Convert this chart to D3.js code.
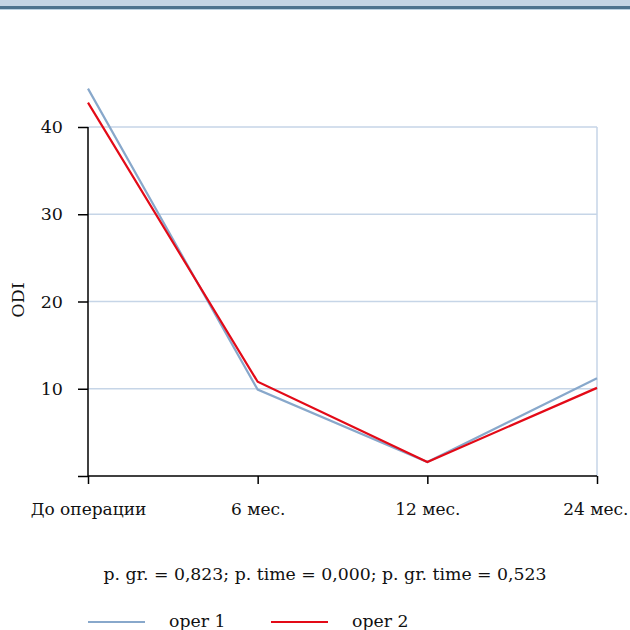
<!DOCTYPE html>
<html><head><meta charset="utf-8">
<script src="https://cdn.jsdelivr.net/npm/d3@7"></script>
<style>
html,body{margin:0;padding:0;background:#fff;}
svg{display:block;}
text{font-family:"DejaVu Serif","Liberation Serif",serif;fill:#111;}
</style></head>
<body>
<svg id="chart" width="630" height="630"></svg>
<script>
const categories = ["До операции", "6 мес.", "12 мес.", "24 мес."];
const oper1 = [44.4, 9.9, 1.6, 11.2];
const oper2 = [42.8, 10.8, 1.6, 10.1];
const seriesNames = ["oper 1", "oper 2"];
const yTicks = [0, 10, 20, 30, 40];
const statsText = "p. gr. = 0,823; p. time = 0,000; p. gr. time = 0,523";

const colors = ["#88a8cb", "#e30a17"];
const svg = d3.select("#chart");

// header band
svg.append("rect").attr("x",0).attr("y",0).attr("width",630).attr("height",6).attr("fill","#c5d3e4");
svg.append("rect").attr("x",0).attr("y",6).attr("width",630).attr("height",3).attr("fill","#4e718e");
svg.append("rect").attr("x",0).attr("y",9).attr("width",630).attr("height",1).attr("fill","#bcd0e2");

const x = d3.scalePoint().domain(categories).range([88, 597]);
const y = d3.scaleLinear().domain([0, 40]).range([476, 127]);

// gridlines
svg.append("g").selectAll("line").data(yTicks.filter(d => d > 0)).join("line")
  .attr("x1", 88).attr("x2", 597)
  .attr("y1", d => y(d)).attr("y2", d => y(d))
  .attr("stroke", "#c6d5e7").attr("stroke-width", 1.5);
svg.append("line").attr("x1", x(categories[3])).attr("x2", x(categories[3]))
  .attr("y1", y(40)).attr("y2", y(0)).attr("stroke", "#c6d5e7").attr("stroke-width", 1.5);

// y axis
const yAxis = d3.axisLeft(y).tickValues(yTicks).tickSize(10).tickPadding(15)
  .tickFormat(d => d === 0 ? "" : d);
const gy = svg.append("g").attr("transform", "translate(88,0)").call(yAxis);
gy.select(".domain").remove();
gy.append("line").attr("x1",0).attr("x2",0).attr("y1",y(40)).attr("y2",y(0))
  .attr("stroke","#000").attr("stroke-width",1.5);
gy.selectAll(".tick line").attr("stroke","#000").attr("stroke-width",1.5);
gy.selectAll(".tick text").style("font-size","17.5px")
  .style("font-family","'DejaVu Serif',serif").attr("fill","#111");

// x axis
const xAxis = d3.axisBottom(x).tickSize(8).tickPadding(19);
const gx = svg.append("g").attr("transform", `translate(0,${y(0)})`).call(xAxis);
gx.select(".domain").remove();
gx.append("line").attr("x1",x(categories[0])).attr("x2",x(categories[3])).attr("y1",0).attr("y2",0)
  .attr("stroke","#000").attr("stroke-width",1.5);
gx.selectAll(".tick line").attr("stroke","#000").attr("stroke-width",1.5);
gx.selectAll(".tick text").style("font-size","17px")
  .style("font-family","'DejaVu Serif',serif").attr("fill","#111");
// keep last label inside the frame
gx.selectAll(".tick").each(function(d) {
  const t = d3.select(this).select("text");
  const bb = t.node().getBBox();
  const right = x(d) + bb.width / 2;
  if (right > 628) t.attr("x", 628 - right);
});

// y label
svg.append("text").attr("transform","translate(24,300) rotate(-90)")
  .attr("text-anchor","middle").style("font-size","17.5px").text("ODI");

// lines
const line = d3.line().x((d,i) => x(categories[i])).y(d => y(d));
[oper1, oper2].forEach((s, k) => {
  svg.append("path").datum(s).attr("d", line).attr("fill","none")
    .attr("stroke", colors[k]).attr("stroke-width", 2.2).attr("stroke-linejoin","miter");
});

// stats text
svg.append("text").attr("x", 325).attr("y", 580).attr("text-anchor","middle")
  .style("font-size","17.3px").text(statsText);

// legend
const legX = [88, 271];
seriesNames.forEach((n, k) => {
  svg.append("line").attr("x1", legX[k]).attr("x2", legX[k] + 57)
    .attr("y1", 622).attr("y2", 622).attr("stroke", colors[k]).attr("stroke-width", 2.2);
  svg.append("text").attr("x", legX[k] + 81).attr("y", 627)
    .style("font-size","17.3px").text(n);
});
</script>
</body></html>
